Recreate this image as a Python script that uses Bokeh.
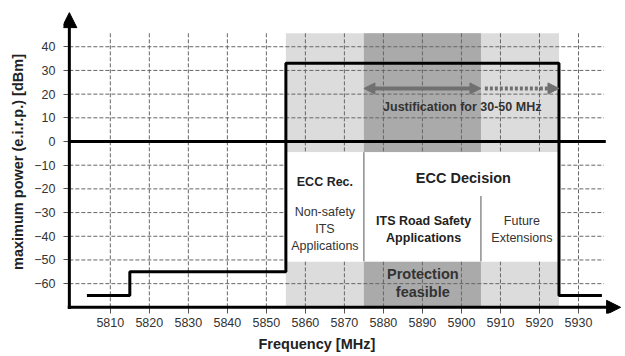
from bokeh.plotting import figure
from bokeh.models import Range1d, FixedTicker, Arrow, NormalHead, Title
from bokeh.embed import file_html
from bokeh.resources import INLINE
from bokeh.core.properties import value

# ---- data ----
freq_ticks = [5810, 5820, 5830, 5840, 5850, 5860, 5870, 5880, 5890, 5900, 5910, 5920, 5930]
power_ticks = [-60, -50, -40, -30, -20, -10, 0, 10, 20, 30, 40]

# maximum e.i.r.p. mask (step line)
mask_freq = [5804, 5815, 5815, 5855, 5855, 5925, 5925, 5936]
mask_power = [-65, -65, -55, -55, 33, 33, -65, -65]

# bands
its_start, its_end = 5855, 5925          # whole ITS band (light grey)
safety_start, safety_end = 5875, 5905    # road safety / protection feasible (dark grey)
future_start = 5905
justif_end = 5925

FONT = "Liberation Sans"
LIGHT = "#dcdcdc"
DARK = "#aaaaaa"
GRID = "#666666"
TXT = "#222222"

p = figure(width=625, height=356,
           x_range=Range1d(5798, 5942.05), y_range=Range1d(-72.6, 55.3),
           output_backend="svg", toolbar_location=None,
           min_border_left=63, min_border_right=0, min_border_top=10, min_border_bottom=43)
p.outline_line_color = None
p.grid.visible = False

# axes styling
for ax in (p.xaxis, p.yaxis):
    ax.axis_line_color = None
    ax.major_tick_in = 6
    ax.major_tick_out = 0
    ax.minor_tick_line_color = None
    ax.major_tick_line_color = "#555555"
    ax.major_label_text_font = FONT
    ax.major_label_text_font_size = "12.5px"
    ax.major_label_text_color = "#333333"
p.xaxis.ticker = FixedTicker(ticks=freq_ticks)
p.yaxis.ticker = FixedTicker(ticks=power_ticks)
p.xaxis.major_label_standoff = 4
p.yaxis.major_label_standoff = 8
p.yaxis.axis_label = "maximum power (e.i.r.p.) [dBm]"
p.yaxis.axis_label_text_font = FONT
p.yaxis.axis_label_text_font_style = "bold"
p.yaxis.axis_label_text_font_size = "14.5px"
p.yaxis.axis_label_text_color = TXT
p.yaxis.axis_label_standoff = 5

x0 = 5799.5   # y-axis position
y0 = -70      # x-axis position
grid_top = 46
box_top, box_bottom = -4.5, -50.6

# grey shadings (top and bottom parts)
p.quad(left=[its_start, its_start], right=[its_end, its_end],
       bottom=[box_top, y0], top=[grid_top - 0.3, box_bottom], fill_color=LIGHT, line_color=None)
p.quad(left=[safety_start, safety_start], right=[safety_end, safety_end],
       bottom=[box_top, y0], top=[grid_top - 0.3, box_bottom], fill_color=DARK, line_color=None)

# dashed grid
hy = [v for v in power_ticks if v != 0]
p.segment(x0=[x0] * len(hy), x1=[5936.5] * len(hy), y0=hy, y1=hy,
          line_color=GRID, line_width=1, line_dash="4 2")
p.segment(x0=freq_ticks, x1=freq_ticks, y0=[y0] * len(freq_ticks), y1=[grid_top] * len(freq_ticks),
          line_color=GRID, line_width=1, line_dash="4 2")

# white label box
p.quad(left=[its_start], right=[its_end], bottom=[box_bottom], top=[box_top],
       fill_color="white", line_color=None)
p.segment(x0=[safety_start, future_start], x1=[safety_start, future_start],
          y0=[box_top, -23], y1=[box_bottom, box_bottom], line_color="#555555", line_width=1)

# zero line
p.segment(x0=[x0], x1=[5937], y0=[0], y1=[0], line_color="black", line_width=3)

# mask
p.line(mask_freq, mask_power, line_color="black", line_width=3)

# axes with arrows
p.add_layout(Arrow(end=NormalHead(size=15, fill_color="black", line_color="black"),
                   x_start=x0, y_start=y0 - 0.65, x_end=x0, y_end=54.4,
                   line_color="black", line_width=3))
p.add_layout(Arrow(end=NormalHead(size=14, fill_color="black", line_color="black"),
                   x_start=x0 - 0.4, y_start=y0, x_end=5940.8, y_end=y0,
                   line_color="black", line_width=3))

# justification arrows
AG = "#707070"
p.add_layout(Arrow(start=NormalHead(size=11, fill_color=AG, line_color=AG),
                   end=NormalHead(size=11, fill_color=AG, line_color=AG),
                   x_start=safety_start, y_start=22.4, x_end=safety_end, y_end=22.4,
                   line_color=AG, line_width=4))
p.add_layout(Arrow(end=NormalHead(size=11, fill_color=AG, line_color=AG),
                   x_start=safety_end + 1, y_start=22.4, x_end=justif_end, y_end=22.4,
                   line_color=AG, line_width=4, line_dash="3 2"))

def txt(x, y, s, size, bold, color=TXT, lh=1.2):
    p.text(x=[x], y=[y], text=[s], text_font=value(FONT),
           text_font_style="bold" if bold else "normal",
           text_font_size=size, text_align="center", text_baseline="middle",
           text_color=color, text_line_height=lh)

txt(5900.2, 14.5, "Justification for 30-50 MHz", "12.5px", True, "#333333")
txt(5865, -17.2, "ECC Rec.", "12.5px", True)
txt(5900.5, -15.2, "ECC Decision", "14.5px", True)
txt(5865, -36.9, "Non-safety\nITS\nApplications", "12.5px", False, "#333333")
txt(5890.3, -37.2, "ITS Road Safety\nApplications", "12.5px", True)
txt(5915.5, -37.2, "Future\nExtensions", "12.5px", False, "#333333")
txt(5890.1, -59.6, "Protection\nfeasible", "14.5px", True, "#333333", 1.15)

xt = Title(text="Frequency [MHz]", align="left", offset=195, standoff=8,
           text_font=FONT, text_font_style="bold", text_font_size="14.5px", text_color=TXT)
p.add_layout(xt, "below")

open("out.html", "w").write(file_html(p, INLINE))
